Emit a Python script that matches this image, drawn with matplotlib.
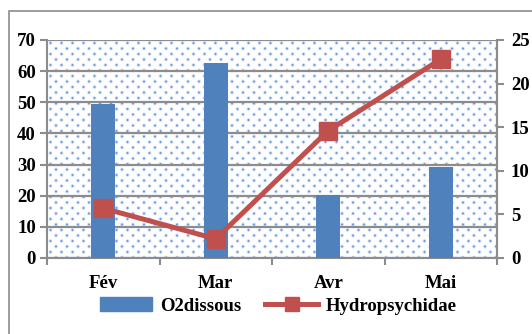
import numpy as np
import matplotlib.pyplot as plt
from matplotlib.patches import Rectangle
from matplotlib.lines import Line2D
from matplotlib.patches import Patch

mois = ['Fév', 'Mar', 'Avr', 'Mai']
o2dissous = [49.3, 62.6, 20.1, 29.1]
hydropsychidae = [5.7, 2.2, 14.6, 22.8]

plt.rcParams['font.family'] = ['Liberation Serif', 'DejaVu Serif']
plt.rcParams['font.weight'] = 'bold'

bleu = '#4F81BD'
rouge = '#C0504D'
gris = '#8C8C8C'

fig = plt.figure(figsize=(5.32, 3.34), dpi=100)
ax = fig.add_axes([47/532, 1 - 258/334, 450/532, 218/334])

# cadre extérieur du graphique
fig.patches.append(Rectangle((9/532, -0.2), 1.2, 1 - 11/334 + 0.2, transform=fig.transFigure,
                             fill=False, edgecolor=gris, linewidth=1.2))

# fond pointillé de la zone de tracé
h, w = 218, 450
yy, xx = np.mgrid[0:h, 0:w]
poids = np.zeros((h, w))
for i, cy in enumerate(np.arange(2.5, h, 5.5)):
    x0 = 3 if i % 2 == 0 else 8.5
    for cx in np.arange(x0, w, 11):
        y1, y2 = max(int(cy) - 3, 0), min(int(cy) + 4, h)
        x1, x2 = max(int(cx) - 3, 0), min(int(cx) + 4, w)
        d2 = (yy[y1:y2, x1:x2] - cy) ** 2 + (xx[y1:y2, x1:x2] - cx) ** 2
        poids[y1:y2, x1:x2] += np.exp(-d2 / (2 * 0.9 ** 2))
poids = np.clip(poids, 0, 1)
dot = np.array([0.33, 0.55, 0.86])
tex = 1 - poids[..., None] * (1 - dot)
x = np.arange(len(mois))
ax.imshow(tex, extent=(-0.5, 3.5, 0, 70), aspect='auto', zorder=0, interpolation='bilinear')

ax.bar(x, o2dissous, width=0.21, color=bleu, zorder=3)
ax.set_xlim(-0.5, 3.5)
ax.set_ylim(0, 70)
ax.set_yticks(range(0, 71, 10))
ax.grid(axis='y', color=gris, linewidth=1.6, zorder=1)
ax.set_axisbelow(False)
ax.set_xticks(x)
ax.set_xticklabels(mois, fontsize=13.5)
ax.set_xticks(np.arange(-0.5, 4, 1), minor=True)
ax.tick_params(axis='x', which='major', length=0, pad=12)
ax.tick_params(axis='x', which='minor', length=5, color=gris, width=1.5)
ax.tick_params(axis='y', length=5, color=gris, width=1.5, labelsize=13.5, pad=3)
ax.spines['top'].set_visible(False)
for s in ['left', 'bottom', 'right']:
    ax.spines[s].set_color(gris)
    ax.spines[s].set_linewidth(1.5)

ax2 = ax.twinx()
ax2.plot(x, hydropsychidae, color=rouge, linewidth=3.6, marker='s', markersize=13.5, zorder=4)
ax2.set_ylim(0, 25)
ax2.set_yticks(range(0, 26, 5))
ax2.tick_params(axis='y', length=5, color=gris, width=1.5, labelsize=13.5, pad=5)
ax2.spines['top'].set_visible(False)
ax2.spines['right'].set_color(gris)
ax2.spines['right'].set_linewidth(1.5)
ax2.spines['left'].set_visible(False)
ax2.spines['bottom'].set_visible(False)

poignees = [Patch(color=bleu),
            Line2D([0], [0], color=rouge, linewidth=3.6, marker='s', markersize=10)]
fig.legend(poignees, ['O2dissous', 'Hydropsychidae'], loc='center', ncol=2,
           bbox_to_anchor=(278/532, 1 - 306/334), frameon=False, fontsize=13.5,
           handlelength=2.8, handleheight=0.75, columnspacing=1.3, handletextpad=0.4)

fig.savefig('out.png', dpi=100)
